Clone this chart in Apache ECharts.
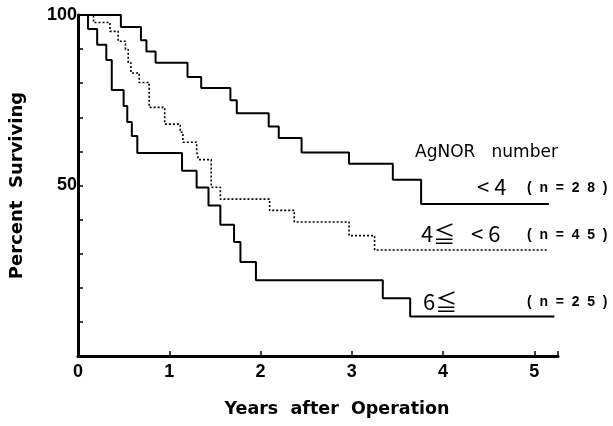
<!DOCTYPE html>
<html>
<head>
<meta charset="utf-8">
<script src="https://cdn.jsdelivr.net/npm/echarts@6/dist/echarts.min.js"></script>
<style>
  html, body { margin: 0; padding: 0; background: #fff; }
  #chart { width: 613px; height: 426px; }
</style>
</head>
<body>
<div id="chart"></div>
<script>
// 生存曲线数据 [年, 百分比]
var lowGroup = [[0,100],[0.47,96.5],[0.69,92.6],[0.75,89.3],[0.85,86.0],[1.20,81.8],[1.35,78.6],[1.67,75.0],[1.74,71.2],[2.09,67.3],[2.20,63.9],[2.45,59.7],[2.97,56.4],[3.45,51.7],[3.76,44.6],[5.16,44.6]];
var midGroup = [[0,100],[0.17,97.8],[0.35,95.2],[0.44,92.3],[0.52,89.9],[0.55,86.0],[0.58,83.0],[0.67,80.2],[0.78,72.9],[0.95,68.0],[1.12,65.6],[1.15,62.7],[1.30,60.0],[1.32,57.6],[1.46,49.5],[1.56,46.0],[2.10,42.7],[2.37,39.3],[2.97,35.3],[3.25,31.1],[5.14,31.1]];
var highGroup = [[0,100],[0.11,95.9],[0.21,91.3],[0.31,86.8],[0.37,78.0],[0.50,73.3],[0.54,68.6],[0.59,64.5],[0.65,59.5],[1.14,54.3],[1.30,49.4],[1.43,44.1],[1.56,38.5],[1.71,33.4],[1.78,27.6],[1.95,22.2],[3.34,16.9],[3.64,11.6],[5.22,11.6]];
var yLabels = [50, 100];

var labelFont = '"Liberation Sans", Arial, sans-serif';
var nameFont = '"DejaVu Sans", sans-serif';
var symFont = '"Noto Sans CJK JP", "DejaVu Sans", sans-serif';

var myChart = echarts.init(document.getElementById('chart'));
var option = {
    backgroundColor: '#fff',
    animation: false,
    grid: { left: 78, right: 55, top: 15, bottom: 70 },
    xAxis: {
        type: 'value',
        min: 0,
        max: 5.26,
        interval: 1,
        name: 'Years  after  Operation',
        nameLocation: 'middle',
        nameGap: 44,
        nameTextStyle: { color: '#000', fontSize: 17.5, fontWeight: 'bold', fontFamily: nameFont, padding: [0, 0, 0, 38] },
        axisLine: { lineStyle: { color: '#000', width: 3 } },
        axisTick: { inside: true, length: 5, lineStyle: { color: '#000', width: 1.5 } },
        axisLabel: {
            color: '#000', fontSize: 18, fontWeight: 'bold', fontFamily: labelFont, margin: 7,
            formatter: function (v) { return v % 1 === 0 ? String(v) : ''; }
        },
        splitLine: { show: false }
    },
    yAxis: {
        type: 'value',
        min: 0,
        max: 100,
        interval: 10,
        name: 'Percent  Surviving',
        nameLocation: 'middle',
        nameGap: 52,
        nameTextStyle: { color: '#000', fontSize: 18, fontWeight: 'bold', fontFamily: nameFont },
        axisLine: { lineStyle: { color: '#000', width: 3 } },
        axisTick: { inside: true, length: 5, lineStyle: { color: '#000', width: 1.5 } },
        axisLabel: {
            color: '#000', fontSize: 18, fontWeight: 'bold', fontFamily: labelFont, margin: 1,
            formatter: function (v) { return yLabels.indexOf(v) >= 0 ? String(v) : ''; }
        },
        splitLine: { show: false }
    },
    series: [
        {
            name: '<4', type: 'line', step: 'end', data: lowGroup,
            symbol: 'none', lineStyle: { color: '#000', width: 2 }
        },
        {
            name: '4≦<6', type: 'line', step: 'end', data: midGroup,
            symbol: 'none', lineStyle: { color: '#000', width: 1.6, type: [2, 2] }
        },
        {
            name: '6≦', type: 'line', step: 'end', data: highGroup,
            symbol: 'none', lineStyle: { color: '#000', width: 2 }
        }
    ],
    graphic: [
        { type: 'text', left: 415, top: 144, style: { text: 'AgNOR   number', font: '17px ' + nameFont, fill: '#000' } },
        { type: 'text', left: 477, top: 176, style: { text: '< 4', font: '22px ' + symFont, fill: '#000' } },
        { type: 'text', left: 527, top: 181, style: { text: '(  n  =  2  8  )', font: 'bold 14px ' + labelFont, fill: '#000' } },
        { type: 'text', left: 421, top: 223, style: { text: '4≦', font: '22px ' + symFont, fill: '#000' } },
        { type: 'text', left: 471, top: 223, style: { text: '< 6', font: '22px ' + symFont, fill: '#000' } },
        { type: 'text', left: 527, top: 228, style: { text: '(  n  =  4  5  )', font: 'bold 14px ' + labelFont, fill: '#000' } },
        { type: 'text', left: 423, top: 291, style: { text: '6≦', font: '22px ' + symFont, fill: '#000' } },
        { type: 'text', left: 527, top: 295, style: { text: '(  n  =  2  5  )', font: 'bold 14px ' + labelFont, fill: '#000' } }
    ]
};
myChart.setOption(option);
</script>
</body>
</html>
